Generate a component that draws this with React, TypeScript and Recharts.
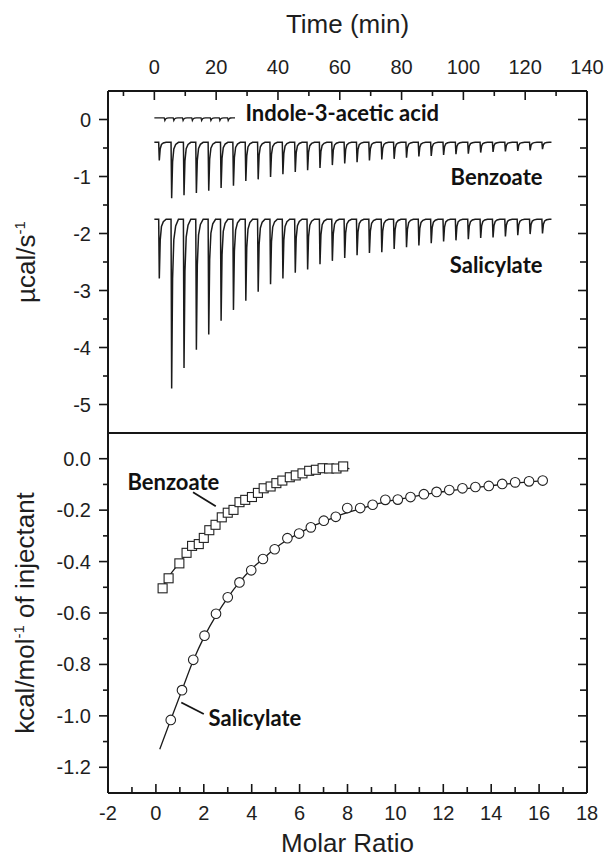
import {
    LineChart,
    Line,
    XAxis,
    YAxis,
    ComposedChart,
    Scatter,
    ReferenceDot,
    ReferenceLine,
} from 'recharts'

// ---- raw thermogram (top panel) ----
// injection times in minutes, first one is the small pre-injection
const injectionTimes = [
    1.4, 5.4, 9.4, 13.4, 17.4, 21.4, 25.4, 29.4, 33.4, 37.4, 41.4, 45.4, 49.4, 53.4, 57.4, 61.4,
    65.4, 69.4, 73.4, 77.4, 81.4, 85.4, 89.4, 93.4, 97.4, 101.4, 105.4, 109.4, 113.4, 117.4, 121.4, 125.4,
]
const benzoateBaseline = -0.4
const benzoatePeakMin = [
    -0.72, -1.38, -1.33, -1.29, -1.25, -1.2, -1.16, -1.08, -1.05, -1.01, -0.96, -0.92, -0.89, -0.85, -0.8, -0.77,
    -0.75, -0.72, -0.7, -0.69, -0.67, -0.65, -0.64, -0.62, -0.61, -0.6, -0.58, -0.57, -0.56, -0.55, -0.54, -0.52,
]
const salicylateBaseline = -1.75
const salicylatePeakMin = [
    -2.79, -4.72, -4.36, -4.04, -3.77, -3.53, -3.34, -3.18, -3.02, -2.89, -2.79, -2.69, -2.63, -2.54, -2.48, -2.43,
    -2.38, -2.34, -2.33, -2.27, -2.24, -2.21, -2.17, -2.14, -2.12, -2.1, -2.08, -2.07, -2.05, -2.03, -2.01, -2.0,
]
const indoleBaseline = 0.03
const indoleTimes = [3.2, 6.1, 9.1, 12.1, 15.1, 18.1, 21.0, 23.7]
const indolePeakMin = [-0.02, -0.02, -0.02, -0.02, -0.02, -0.02, -0.02, -0.02]

// ---- integrated heats (bottom panel) ----
const benzoateRatio = [
    0.28, 0.53, 0.98, 1.28, 1.51, 1.79, 2.0, 2.23, 2.49, 2.75, 3.0, 3.24, 3.49, 3.73, 4.01,
    4.26, 4.5, 4.79, 5.03, 5.28, 5.59, 5.84, 6.12, 6.4, 6.68, 6.96, 7.23, 7.54, 7.82,
]
const benzoateHeat = [
    -0.504, -0.465, -0.407, -0.366, -0.339, -0.332, -0.308, -0.278, -0.257, -0.228, -0.21, -0.199, -0.169, -0.16, -0.149,
    -0.133, -0.115, -0.108, -0.095, -0.085, -0.072, -0.065, -0.057, -0.047, -0.043, -0.037, -0.038, -0.038, -0.03,
]
const benzoateFitRatio = [
    0.28, 0.53, 0.98, 1.28, 1.51, 1.79, 2.0, 2.23, 2.49, 2.75, 3.0, 3.24, 3.49, 3.73, 4.01,
    4.26, 4.5, 4.79, 5.03, 5.28, 5.59, 5.84, 6.12, 6.4, 6.68, 6.96, 7.23, 7.54, 7.82, 8.08,
]
const benzoateFitHeat = [
    -0.5, -0.46, -0.405, -0.37, -0.345, -0.32, -0.3, -0.28, -0.258, -0.235, -0.215, -0.198, -0.18, -0.165, -0.15,
    -0.135, -0.122, -0.11, -0.098, -0.088, -0.076, -0.068, -0.058, -0.05, -0.043, -0.038, -0.035, -0.033, -0.03, -0.04,
]
const salicylateRatio = [
    0.62, 1.09, 1.56, 2.03, 2.51, 3.0, 3.49, 3.98, 4.47, 4.96, 5.49, 5.98, 6.47, 7.01, 7.51, 7.99,
    8.53, 9.05, 9.58, 10.1, 10.63, 11.19, 11.72, 12.25, 12.8, 13.34, 13.9, 14.46, 15.0, 15.58, 16.15,
]
const salicylateHeat = [
    -1.016, -0.9, -0.782, -0.688, -0.603, -0.539, -0.481, -0.434, -0.39, -0.352, -0.309, -0.291, -0.267, -0.241, -0.226, -0.192,
    -0.192, -0.179, -0.16, -0.159, -0.149, -0.138, -0.129, -0.122, -0.115, -0.11, -0.106, -0.098, -0.092, -0.088, -0.085,
]
const salicylateFitRatio = [
    0.16, 0.62, 1.09, 1.56, 2.03, 2.51, 3.0, 3.49, 3.98, 4.47, 4.96, 5.49, 5.98, 6.47, 7.01, 7.51,
    7.99, 8.53, 9.05, 9.58, 10.1, 10.63, 11.19, 11.72, 12.25, 12.8, 13.34, 13.9, 14.46, 15.0, 15.58, 16.15,
]
const salicylateFitHeat = [
    -1.13, -1.015, -0.9, -0.785, -0.69, -0.61, -0.54, -0.48, -0.43, -0.39, -0.35, -0.315, -0.29, -0.265, -0.245, -0.225,
    -0.21, -0.195, -0.18, -0.168, -0.158, -0.149, -0.14, -0.132, -0.125, -0.118, -0.112, -0.106, -0.1, -0.095, -0.09, -0.086,
]

// tick values
const timeTicks = [-10, 0, 10, 20, 30, 40, 50, 60, 70, 80, 90, 100, 110, 120, 130, 140]
const rateTicks = [-5, -4.5, -4, -3.5, -3, -2.5, -2, -1.5, -1, -0.5, 0]
const ratioTicks = [-2, -1, 0, 1, 2, 3, 4, 5, 6, 7, 8, 9, 10, 11, 12, 13, 14, 15, 16, 17, 18]
const heatTicks = [-1.2, -1.1, -1.0, -0.9, -0.8, -0.7, -0.6, -0.5, -0.4, -0.3, -0.2, -0.1, 0]

// shape of one injection peak: [minutes after injection, fraction of the peak depth]
const PEAK_SHAPE = [[0, 0], [0.2, 1], [0.5, 0.35], [0.9, 0.12], [1.5, 0.04], [2.4, 0]]

function buildTrace(start: number, end: number, base: number, times: number[], mins: number[]) {
    const pts = [{ t: start, v: base }]
    times.forEach((t0, i) => {
        PEAK_SHAPE.forEach(([dt, f]) => pts.push({ t: t0 + dt, v: base + f * (mins[i] - base) }))
    })
    pts.push({ t: end, v: base })
    return pts
}

const benzoateTrace = buildTrace(0, 128.5, benzoateBaseline, injectionTimes, benzoatePeakMin)
const salicylateTrace = buildTrace(0, 128.5, salicylateBaseline, injectionTimes, salicylatePeakMin)
const indoleTrace = buildTrace(0, 24.3, indoleBaseline, indoleTimes, indolePeakMin)

const zip = (xs: number[], ys: number[]) => xs.map((x, i) => ({ x, y: ys[i] }))

const AX = '#161616'
const SANS = '"Liberation Sans", Arial, sans-serif'
const tickFont = { fontFamily: SANS, fontSize: 20, fill: '#1e1e1e' }
const titleFont = { fontFamily: SANS, fontSize: 26, fill: '#1e1e1e' }
const noteFont = { fontFamily: 'Lato, "Open Sans", sans-serif', fontWeight: 700, fontSize: 22, fill: '#111' }

// ---- custom ticks (major ticks longer, left axes outward, others inward) ----
const TopTimeTick = ({ x, y, payload }: any) => {
    const major = payload.value % 20 === 0
    return (
        <g>
            <line x1={x} y1={y} x2={x} y2={y + (major ? 9 : 5)} stroke={AX} strokeWidth={1.6} />
            {major && <text x={x} y={y - 17} textAnchor="middle" style={tickFont}>{payload.value}</text>}
        </g>
    )
}
const LeftRateTick = ({ x, y, payload }: any) => {
    const major = Number.isInteger(payload.value)
    return (
        <g>
            <line x1={x} y1={y} x2={x - (major ? 9 : 5)} y2={y} stroke={AX} strokeWidth={1.6} />
            {major && <text x={x - 17} y={y + 7} textAnchor="end" style={tickFont}>{payload.value}</text>}
        </g>
    )
}
const RightRateTick = ({ x, y, payload }: any) => {
    const major = Number.isInteger(payload.value)
    return <line x1={x} y1={y} x2={x - (major ? 9 : 7)} y2={y} stroke={AX} strokeWidth={1.6} />
}
const TopRatioTick = ({ x, y, payload }: any) => {
    const major = payload.value % 2 === 0
    return <line x1={x} y1={y} x2={x} y2={y + (major ? 9 : 6)} stroke={AX} strokeWidth={1.6} />
}
const BottomRatioTick = ({ x, y, payload }: any) => {
    const major = payload.value % 2 === 0
    return (
        <g>
            <line x1={x} y1={y} x2={x} y2={y - (major ? 9 : 6)} stroke={AX} strokeWidth={1.6} />
            {major && <text x={x} y={y + 27} textAnchor="middle" style={tickFont}>{payload.value}</text>}
        </g>
    )
}
const LeftHeatTick = ({ x, y, payload }: any) => {
    const major = Math.round(payload.value * 10) % 2 === 0
    return (
        <g>
            <line x1={x} y1={y} x2={x - (major ? 9 : 5)} y2={y} stroke={AX} strokeWidth={1.6} />
            {major && <text x={x - 17} y={y + 7} textAnchor="end" style={tickFont}>{payload.value.toFixed(1)}</text>}
        </g>
    )
}
const RightHeatTick = ({ x, y, payload }: any) => {
    const major = Math.round(payload.value * 10) % 2 === 0
    return <line x1={x} y1={y} x2={x - (major ? 9 : 7)} y2={y} stroke={AX} strokeWidth={1.6} />
}

const note = (text: string, anchor: 'start' | 'end') => (p: any) => (
    <text x={p.cx} y={p.cy + 8} textAnchor={anchor} style={noteFont}>{text}</text>
)

const square = (p: any) => (
    <rect x={p.cx - 4.5} y={p.cy - 4.5} width={9} height={9} fill="#fff" stroke="#222" strokeWidth={1.1} />
)
const circle = (p: any) => <circle cx={p.cx} cy={p.cy} r={4.8} fill="#fff" stroke="#222" strokeWidth={1.1} />

const axisLine = { stroke: AX, strokeWidth: 2 }

export default function App() {
    return (
        <div style={{ position: 'absolute', left: 0, top: 0, width: 606, height: 859, background: '#fff' }}>
            <div style={{ position: 'absolute', left: 0, top: 0 }}>
                <LineChart width={606} height={438} margin={{ top: 51, right: 9, left: 48, bottom: 5 }}>
                    <XAxis xAxisId="t" orientation="top" dataKey="t" type="number" domain={[-15, 140]}
                        allowDataOverflow ticks={timeTicks} interval={0} height={40}
                        axisLine={axisLine} tickLine={false} tickSize={0} tickMargin={0} tick={TopTimeTick} />
                    <YAxis yAxisId="l" type="number" domain={[-5.5, 0.5]} allowDataOverflow ticks={rateTicks}
                        interval={0} width={60} axisLine={axisLine} tickLine={false} tickSize={0} tickMargin={0}
                        tick={LeftRateTick} />
                    <YAxis yAxisId="r" orientation="right" type="number" domain={[-5.5, 0.5]} allowDataOverflow
                        ticks={rateTicks} interval={0} width={10} axisLine={axisLine} tickLine={false}
                        tickSize={0} tickMargin={0} tick={RightRateTick} />
                    <Line xAxisId="t" yAxisId="l" data={indoleTrace} dataKey="v" type="linear" stroke="#1b1b1b"
                        strokeWidth={1.3} dot={false} isAnimationActive={false} />
                    <Line xAxisId="t" yAxisId="l" data={benzoateTrace} dataKey="v" type="linear" stroke="#1b1b1b"
                        strokeWidth={1.5} dot={false} isAnimationActive={false} />
                    <Line xAxisId="t" yAxisId="l" data={salicylateTrace} dataKey="v" type="linear" stroke="#1b1b1b"
                        strokeWidth={1.5} dot={false} isAnimationActive={false} />
                    <ReferenceDot xAxisId="t" yAxisId="l" x={29.5} y={0.11} r={0} shape={note('Indole-3-acetic acid', 'start')} />
                    <ReferenceDot xAxisId="t" yAxisId="l" x={125.6} y={-1.0} r={0} shape={note('Benzoate', 'end')} />
                    <ReferenceDot xAxisId="t" yAxisId="l" x={125.6} y={-2.56} r={0} shape={note('Salicylate', 'end')} />
                </LineChart>
            </div>
            <div style={{ position: 'absolute', left: 0, top: 423 }}>
                <ComposedChart width={606} height={410} margin={{ top: 0, right: 9, left: 48, bottom: 0 }}>
                    <XAxis xAxisId="t" orientation="top" type="number" domain={[-2, 18]} allowDataOverflow
                        ticks={ratioTicks.slice(1, -1)} interval={0} height={10} axisLine={axisLine} tickLine={false}
                        tickSize={0} tickMargin={0} tick={TopRatioTick} />
                    <XAxis xAxisId="b" dataKey="x" type="number" domain={[-2, 18]} allowDataOverflow ticks={ratioTicks}
                        interval={0} height={40} axisLine={axisLine} tickLine={false} tickSize={0} tickMargin={0}
                        tick={BottomRatioTick} />
                    <YAxis yAxisId="l" dataKey="y" type="number" domain={[-1.3, 0.1]} allowDataOverflow ticks={heatTicks}
                        interval={0} width={60} axisLine={axisLine} tickLine={false} tickSize={0} tickMargin={0}
                        tick={LeftHeatTick} />
                    <YAxis yAxisId="r" orientation="right" type="number" domain={[-1.3, 0.1]} allowDataOverflow
                        ticks={heatTicks} interval={0} width={10} axisLine={axisLine} tickLine={false} tickSize={0}
                        tickMargin={0} tick={RightHeatTick} />
                    <Line xAxisId="b" yAxisId="l" data={zip(benzoateFitRatio, benzoateFitHeat)} dataKey="y"
                        type="monotone" stroke="#1b1b1b" strokeWidth={1.3} dot={false} isAnimationActive={false} />
                    <Line xAxisId="b" yAxisId="l" data={zip(salicylateFitRatio, salicylateFitHeat)} dataKey="y"
                        type="monotone" stroke="#1b1b1b" strokeWidth={1.3} dot={false} isAnimationActive={false} />
                    <Scatter xAxisId="b" yAxisId="l" data={zip(benzoateRatio, benzoateHeat)} shape={square}
                        isAnimationActive={false} />
                    <Scatter xAxisId="b" yAxisId="l" data={zip(salicylateRatio, salicylateHeat)} shape={circle}
                        isAnimationActive={false} />
                    <ReferenceLine xAxisId="b" yAxisId="l" segment={[{ x: 1.55, y: -0.13 }, { x: 2.5, y: -0.185 }]}
                        stroke={AX} strokeWidth={1.8} />
                    <ReferenceLine xAxisId="b" yAxisId="l" segment={[{ x: 1.06, y: -0.948 }, { x: 2.0, y: -0.993 }]}
                        stroke={AX} strokeWidth={1.8} />
                    <ReferenceDot xAxisId="b" yAxisId="l" x={-1.19} y={-0.092} r={0} shape={note('Benzoate', 'start')} />
                    <ReferenceDot xAxisId="b" yAxisId="l" x={2.2} y={-1.007} r={0} shape={note('Salicylate', 'start')} />
                </ComposedChart>
            </div>
            <svg width={606} height={859} style={{ position: 'absolute', left: 0, top: 0, pointerEvents: 'none' }}>
                <text x={347.5} y={33} textAnchor="middle" style={titleFont}>Time (min)</text>
                <text x={347.5} y={852} textAnchor="middle" style={titleFont}>Molar Ratio</text>
                <text transform="translate(35,262) rotate(-90)" textAnchor="middle" style={titleFont}>
                    µcal/s<tspan dy={-10} fontSize={15}>-1</tspan>
                </text>
                <text transform="translate(34,613) rotate(-90)" textAnchor="middle" style={titleFont}>
                    kcal/mol<tspan dy={-10} fontSize={15}>-1</tspan><tspan dy={10}> of injectant</tspan>
                </text>
            </svg>
        </div>
    )
}
